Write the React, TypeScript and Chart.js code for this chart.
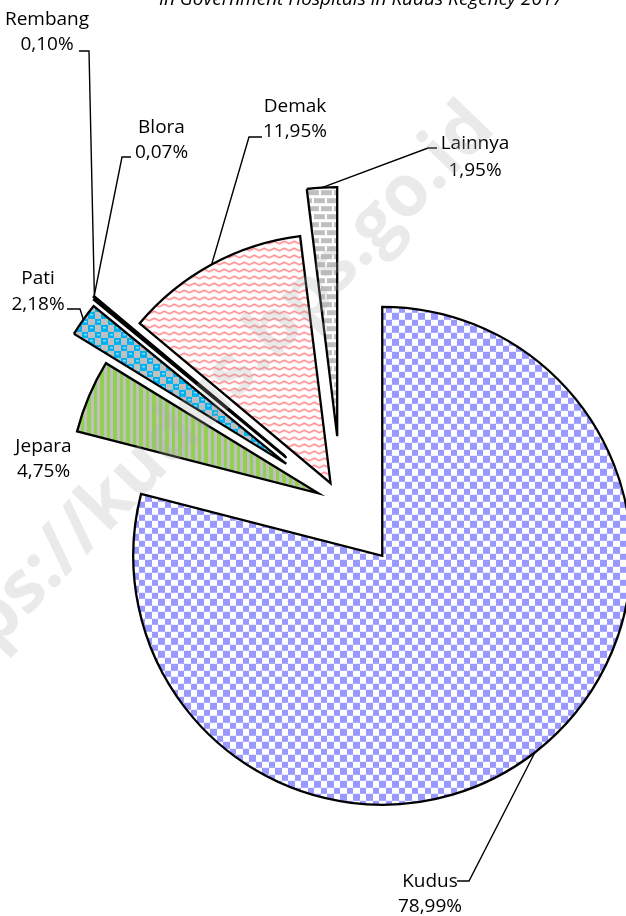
import React, { useEffect, useRef } from 'react';
import { Chart, registerables } from 'chart.js';

Chart.register(...registerables);

// ---- data ----
const categories = ['Kudus', 'Jepara', 'Pati', 'Rembang', 'Blora', 'Demak', 'Lainnya'];
const shares = [78.99, 4.75, 2.18, 0.1, 0.07, 11.95, 1.95];
const titleText = 'in Government Hospitals in Kudus Regency 2017';
const watermarkText = 'https://kudus.bps.go.id';

// ---- styling / layout ----
const EXPLODE = [66.8, 25, 67.5, 71, 73, 22.5, 67];
const PIE_RADIUS = 249;
const FONT = '"Open Sans", "Liberation Sans", sans-serif';
type Layout = { cx: number; y1: number; y2: number; stub: number[] | null };
const LABEL_LAYOUT: Layout[] = [
  { cx: 430, y1: 887, y2: 912, stub: [457, 881, 469, 881] },
  { cx: 43.5, y1: 452, y2: 477, stub: null },
  { cx: 38, y1: 284, y2: 310, stub: [67, 309, 80, 309] },
  { cx: 47, y1: 25, y2: 50, stub: [79, 51, 89, 51] },
  { cx: 161.5, y1: 133, y2: 158, stub: [131, 157, 122, 157] },
  { cx: 295, y1: 112, y2: 137, stub: [262, 137, 249, 137] },
  { cx: 475, y1: 148.5, y2: 175.5, stub: [437, 148, 428, 148] },
];

function makePattern(ctx: CanvasRenderingContext2D, w: number, h: number, draw: (g: CanvasRenderingContext2D) => void) {
  const c = document.createElement('canvas');
  c.width = w;
  c.height = h;
  const g = c.getContext('2d')!;
  draw(g);
  return ctx.createPattern(c, 'repeat')!;
}

function buildFills(ctx: CanvasRenderingContext2D) {
  const kudus = makePattern(ctx, 13, 13, (g) => {
    g.fillStyle = '#ffffff';
    g.fillRect(0, 0, 13, 13);
    g.fillStyle = '#9999ff';
    g.fillRect(0, 0, 7, 7);
    g.fillRect(7, 7, 6, 6);
  });
  const jepara = makePattern(ctx, 13, 13, (g) => {
    g.fillStyle = '#c0c0c0';
    g.fillRect(0, 0, 13, 13);
    g.fillStyle = '#92d050';
    g.fillRect(0, 0, 3, 13);
    g.fillRect(6, 0, 4, 13);
  });
  const pati = makePattern(ctx, 13, 13, (g) => {
    g.fillStyle = '#00b0f0';
    g.fillRect(0, 0, 13, 13);
    g.fillStyle = '#c0c0c0';
    g.fillRect(7, 0, 6, 7);
    g.fillRect(0, 7, 7, 6);
    g.fillStyle = 'rgba(255,255,255,0.55)';
    g.fillRect(2, 2, 3, 1.5);
    g.fillRect(9, 9, 3, 1.5);
  });
  const dark = '#000000';
  const demak = makePattern(ctx, 10, 7, (g) => {
    g.fillStyle = '#ffffff';
    g.fillRect(0, 0, 10, 7);
    g.strokeStyle = '#ff7c80';
    g.lineWidth = 1.5;
    g.beginPath();
    g.moveTo(-2.5, 3.25);
    g.lineTo(0, 4.5);
    g.lineTo(5, 2);
    g.lineTo(10, 4.5);
    g.lineTo(12.5, 3.25);
    g.stroke();
  });
  const lainnya = makePattern(ctx, 13, 16, (g) => {
    g.fillStyle = '#ffffff';
    g.fillRect(0, 0, 13, 16);
    g.fillStyle = '#bfbfbf';
    g.fillRect(0, 1, 11, 5);
    g.fillRect(6, 9, 7, 5);
    g.fillRect(0, 9, 4, 5);
  });
  return [kudus, jepara, pati, dark, dark, demak, lainnya];
}

const fmt = (v: number) => v.toFixed(2).replace('.', ',') + '%';

const explodePlugin = {
  id: 'explodeArcs',
  beforeDatasetDraw(chart: any, args: any) {
    const ctx: CanvasRenderingContext2D = chart.ctx;
    args.meta.data.forEach((arc: any, i: number) => {
      const mid = (arc.startAngle + arc.endAngle) / 2;
      ctx.save();
      ctx.translate(Math.cos(mid) * EXPLODE[i], Math.sin(mid) * EXPLODE[i]);
      arc.draw(ctx);
      ctx.restore();
    });
    return false;
  },
};

const labelPlugin = {
  id: 'pieLabels',
  afterDraw(chart: any) {
    const ctx: CanvasRenderingContext2D = chart.ctx;
    const meta = chart.getDatasetMeta(0);
    ctx.save();
    // leader lines
    ctx.strokeStyle = '#000';
    ctx.lineWidth = 1.4;
    ctx.lineJoin = 'miter';
    meta.data.forEach((arc: any, i: number) => {
      const lay = LABEL_LAYOUT[i];
      if (!lay.stub) return;
      const mid = (arc.startAngle + arc.endAngle) / 2;
      const ax = arc.x + Math.cos(mid) * (EXPLODE[i] + PIE_RADIUS);
      const ay = arc.y + Math.sin(mid) * (EXPLODE[i] + PIE_RADIUS);
      ctx.beginPath();
      ctx.moveTo(lay.stub[0], lay.stub[1]);
      ctx.lineTo(lay.stub[2], lay.stub[3]);
      ctx.lineTo(ax, ay);
      ctx.stroke();
    });
    // label text
    ctx.fillStyle = '#000';
    ctx.font = `19px ${FONT}`;
    ctx.textAlign = 'center';
    ctx.textBaseline = 'alphabetic';
    categories.forEach((name, i) => {
      const lay = LABEL_LAYOUT[i];
      ctx.fillText(name, lay.cx, lay.y1);
      ctx.fillText(fmt(shares[i]), lay.cx, lay.y2);
    });
    // title (partly cut off at the top)
    ctx.font = `italic 19px ${FONT}`;
    ctx.fillText(titleText, 361, 5);
    // watermark
    ctx.save();
    ctx.translate(497, 130);
    ctx.rotate((-46 * Math.PI) / 180);
    ctx.textAlign = 'right';
    ctx.font = `bold 72px ${FONT}`;
    ctx.fillStyle = 'rgba(170,170,170,0.25)';
    ctx.fillText(watermarkText, 0, 0);
    ctx.restore();
    ctx.restore();
  },
};

export default function App() {
  const ref = useRef<HTMLCanvasElement | null>(null);
  useEffect(() => {
    const canvas = ref.current!;
    const ctx = canvas.getContext('2d')!;
    const chart = new Chart(canvas, {
      type: 'pie',
      data: {
        labels: categories,
        datasets: [
          {
            data: shares,
            backgroundColor: buildFills(ctx) as any,
            borderColor: '#000000',
            borderWidth: 2.3,
            borderJoinStyle: 'miter',
            radius: PIE_RADIUS,
          } as any,
        ],
      },
      options: {
        responsive: false,
        devicePixelRatio: 1,
        animation: false,
        radius: PIE_RADIUS,
        rotation: 0,
        layout: { padding: { left: 56.6, top: 90, right: 0, bottom: 0 } },
        plugins: { legend: { display: false }, tooltip: { enabled: false }, title: { display: false } },
        events: [],
      } as any,
      plugins: [explodePlugin, labelPlugin],
    });
    return () => chart.destroy();
  }, []);
  return (
    <div style={{ position: 'absolute', left: 0, top: 0, width: 626, height: 916, background: '#fff' }}>
      <canvas ref={ref} width={626} height={916} style={{ display: 'block', width: 626, height: 916 }} />
    </div>
  );
}
